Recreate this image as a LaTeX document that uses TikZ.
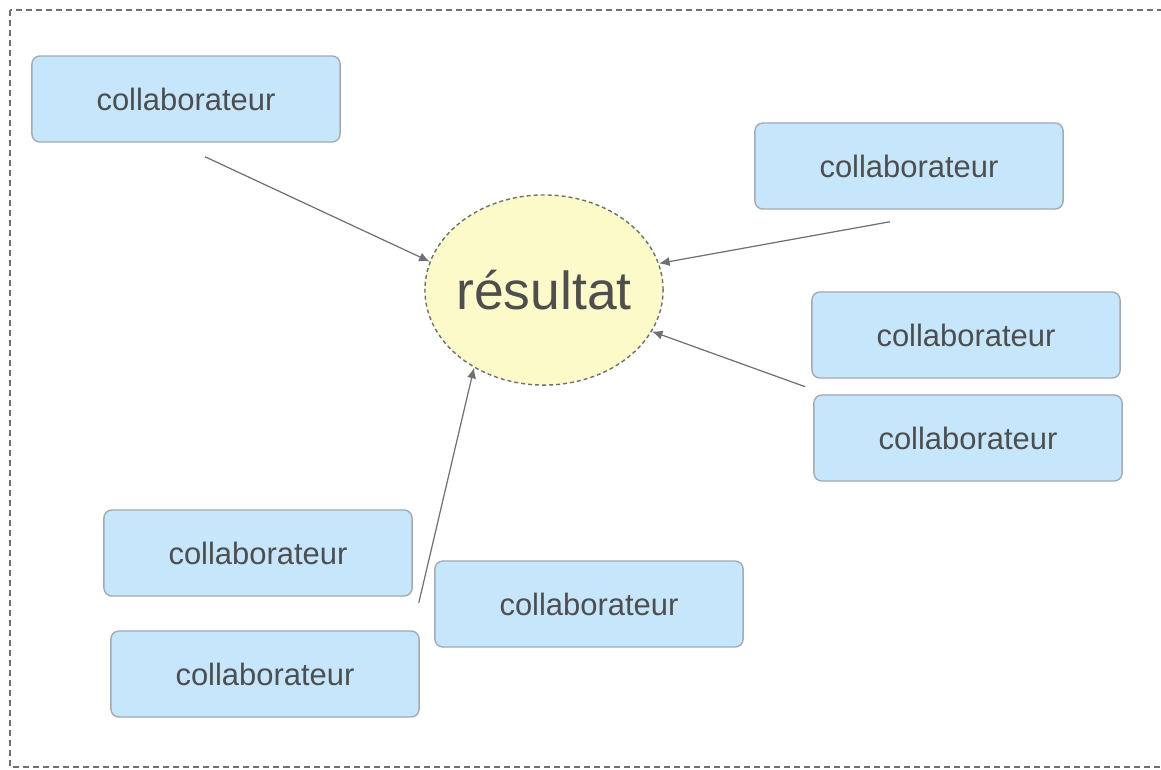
\documentclass[tikz,border=0pt]{standalone}
\usepackage{fontspec}
\setmainfont{Liberation Sans}
\usetikzlibrary{shapes.geometric,arrows.meta}
\definecolor{boxblue}{HTML}{C6E6FC}
\definecolor{boxline}{HTML}{A2AAB2}
\definecolor{resyellow}{HTML}{FBFAC8}
\definecolor{textgrey}{HTML}{4E4E4E}
\definecolor{linegrey}{HTML}{707070}

\begin{document}
\begin{tikzpicture}[x=0.01cm,y=-0.01cm,
        collab/.style={draw=boxline,fill=boxblue,rounded corners=0.08cm,
            minimum width=3.08cm,minimum height=0.86cm,
            text=textgrey,font=\fontsize{8.8pt}{10pt}\selectfont},
        result/.style={ellipse,draw=linegrey,dash pattern=on 0.04cm off 0.03cm,
            fill=resyellow,minimum width=2.38cm,minimum height=1.9cm,inner sep=-0.05cm,
            text=textgrey,font=\fontsize{15.2pt}{17pt}\selectfont},
        link/.style={draw=linegrey,line width=0.35pt,-{Latex[length=3pt,width=2.6pt]}}]
    \useasboundingbox (0,0) rectangle (1161,769);
    \draw[linegrey,line width=0.5pt,dash pattern=on 0.06cm off 0.04cm] (10,10) rectangle (1180,767);
    \node[result] (res) at (544,290) {résultat};
    \node[collab] (c1) at (186,99) {collaborateur};
    \node[collab] (c2) at (909,166) {collaborateur};
    \node[collab] (c3) at (966,335) {collaborateur};
    \node[collab] (c4) at (968,438) {collaborateur};
    \node[collab] (c5) at (258,553) {collaborateur};
    \node[collab] (c6) at (589,604) {collaborateur};
    \node[collab] (c7) at (265,674) {collaborateur};
    \draw[link] ([xshift=0.19cm,yshift=-0.14cm]c1.south) -- (res.166);
    \draw[link] ([xshift=-0.19cm,yshift=-0.12cm]c2.south) -- (res.13);
    \draw[link] ([xshift=-0.06cm,yshift=-0.08cm]c3.south west) -- (res.-21);
    \draw[link] ([xshift=0.06cm,yshift=-0.06cm]c5.south east) -- (res.-132);
\end{tikzpicture}
\end{document}
